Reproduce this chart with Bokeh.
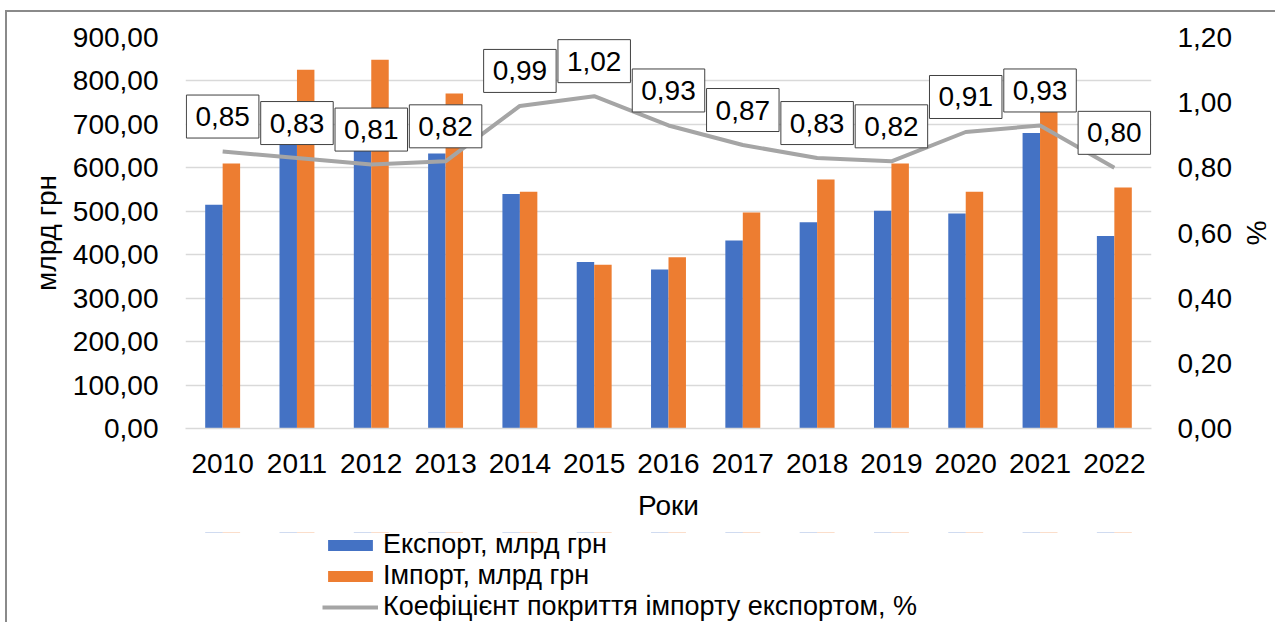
from bokeh.plotting import figure
from bokeh.models import (ColumnDataSource, FactorRange, Range1d, LinearAxis, FixedTicker,
                          CustomJSTickFormatter, Legend, LegendItem, Label)
from bokeh.layouts import column
from bokeh.transform import dodge
from bokeh.embed import file_html
from bokeh.resources import INLINE

years = ["2010", "2011", "2012", "2013", "2014", "2015", "2016",
         "2017", "2018", "2019", "2020", "2021", "2022"]
export_vals = [515, 686, 688, 633, 540, 383, 366, 433, 475, 501, 495, 680, 443]
import_vals = [610, 826, 849, 771, 545, 377, 394, 497, 573, 610, 545, 730, 555]
coef_vals = [0.85, 0.83, 0.81, 0.82, 0.99, 1.02, 0.93, 0.87, 0.83, 0.82, 0.91, 0.93, 0.80]
left_ticks = [0, 100, 200, 300, 400, 500, 600, 700, 800, 900]
right_ticks = [0, 0.2, 0.4, 0.6, 0.8, 1.0, 1.2]
legend_labels = ["Експорт, млрд грн", "Імпорт, млрд грн",
                 "Коефіцієнт покриття імпорту експортом, %"]

FONT = "Liberation Sans"
BLUE = "#4472C4"
ORANGE = "#ED7D31"
GRAY = "#A5A5A5"

src = ColumnDataSource(dict(years=years, export=export_vals, imp=import_vals, coef=coef_vals))

p = figure(x_range=FactorRange(*years, range_padding=0), y_range=Range1d(0, 900),
           width=1268, height=520, output_backend="svg", toolbar_location=None,
           min_border_left=178, min_border_right=124, min_border_top=25, min_border_bottom=104)
p.extra_y_ranges = {"pct": Range1d(0, 1.2)}
p.outline_line_color = None
p.background_fill_color = "white"
p.border_fill_color = "white"

fmt = CustomJSTickFormatter(code="return tick.toFixed(2).replace('.', ',');")

# left axis
ya = p.yaxis[0]
ya.ticker = FixedTicker(ticks=left_ticks)
ya.formatter = fmt
ya.axis_label = "млрд грн"

# right axis
ra = LinearAxis(y_range_name="pct", ticker=FixedTicker(ticks=right_ticks), formatter=fmt,
                axis_label="%")
p.add_layout(ra, "right")

for ax in [ya, ra]:
    ax.axis_line_color = None
    ax.major_tick_line_color = None
    ax.minor_tick_line_color = None
    ax.major_tick_out = 0
    ax.major_label_standoff = 27
    ax.major_label_text_font = FONT
    ax.major_label_text_font_size = "28px"
    ax.major_label_text_color = "black"
    ax.axis_label_text_font = FONT
    ax.axis_label_text_font_size = "28px"
    ax.axis_label_text_font_style = "normal"
    ax.axis_label_text_color = "black"
ya.axis_label_standoff = 8
ra.major_label_standoff = 26
ra.axis_label_standoff = 6

xa = p.xaxis[0]
xa.axis_label = "Роки"
xa.axis_line_color = "#D9D9D9"
xa.axis_line_width = 1.5
xa.major_tick_line_color = None
xa.minor_tick_line_color = None
xa.major_tick_out = 0
xa.major_label_standoff = 25
xa.major_label_text_font = FONT
xa.major_label_text_font_size = "28px"
xa.major_label_text_color = "black"
xa.axis_label_text_font = FONT
xa.axis_label_text_font_size = "28px"
xa.axis_label_text_font_style = "normal"
xa.axis_label_text_color = "black"
xa.axis_label_standoff = 14

p.xgrid.grid_line_color = None
p.ygrid.grid_line_color = "#D9D9D9"
p.ygrid.grid_line_width = 1.5
p.ygrid.ticker = FixedTicker(ticks=left_ticks)

r_exp = p.vbar(x=dodge("years", -0.1175, range=p.x_range), top="export", width=0.235,
               source=src, fill_color=BLUE, line_color=None)
r_imp = p.vbar(x=dodge("years", 0.1175, range=p.x_range), top="imp", width=0.235,
               source=src, fill_color=ORANGE, line_color=None)
r_line = p.line(x="years", y="coef", source=src, y_range_name="pct",
                line_color=GRAY, line_width=4)

# category i sits at synthetic coordinate i + 0.5 on the factor range
for i, c in enumerate(coef_vals):
    lbl = Label(x=i + 0.5, y=c, y_range_name="pct", text=f"{c:.2f}".replace(".", ","),
                text_align="center", text_baseline="middle", y_offset=35,
                text_font=FONT, text_font_size="28px", text_color="black",
                background_fill_color="white", border_line_color="#404040",
                border_line_width=1, padding=(9, 12))
    p.add_layout(lbl)

# legend strip below the chart; its swatch renderers use the same data but are
# zero-height and far outside the strip's y-range, so only the legend shows
p2 = figure(width=1268, height=90, output_backend="svg", toolbar_location=None,
            x_range=FactorRange(*years, range_padding=0), y_range=Range1d(-2, -1),
            x_axis_type=None, y_axis_type=None, min_border=0)
p2.outline_line_color = None
p2.background_fill_color = "white"
p2.border_fill_color = "white"
p2.grid.visible = False
s_exp = p2.vbar(x=dodge("years", -0.1175, range=p2.x_range), top="export", bottom="export",
                width=0.235, source=src, fill_color=BLUE, line_color=None)
s_imp = p2.vbar(x=dodge("years", 0.1175, range=p2.x_range), top="imp", bottom="imp",
                width=0.235, source=src, fill_color=ORANGE, line_color=None)
s_line = p2.line(x="years", y="coef", source=src, line_color=GRAY, line_width=4)

legend = Legend(items=[LegendItem(label=legend_labels[0], renderers=[s_exp]),
                       LegendItem(label=legend_labels[1], renderers=[s_imp]),
                       LegendItem(label=legend_labels[2], renderers=[s_line])],
                location=(137, 0), orientation="vertical",
                label_text_font=FONT, label_text_font_size="27px", label_text_color="black",
                glyph_width=56, glyph_height=14, label_standoff=5, spacing=0,
                padding=0, margin=0, border_line_color=None, background_fill_alpha=0,
                label_height=28)
p2.add_layout(legend)

layout = column(p, p2, spacing=0)
layout.margin = (10, 0, 0, 5)
layout.styles = {"border-left": "2px solid #8a8a8a", "border-top": "2px solid #8a8a8a"}

open("out.html", "w").write(file_html(layout, INLINE))
